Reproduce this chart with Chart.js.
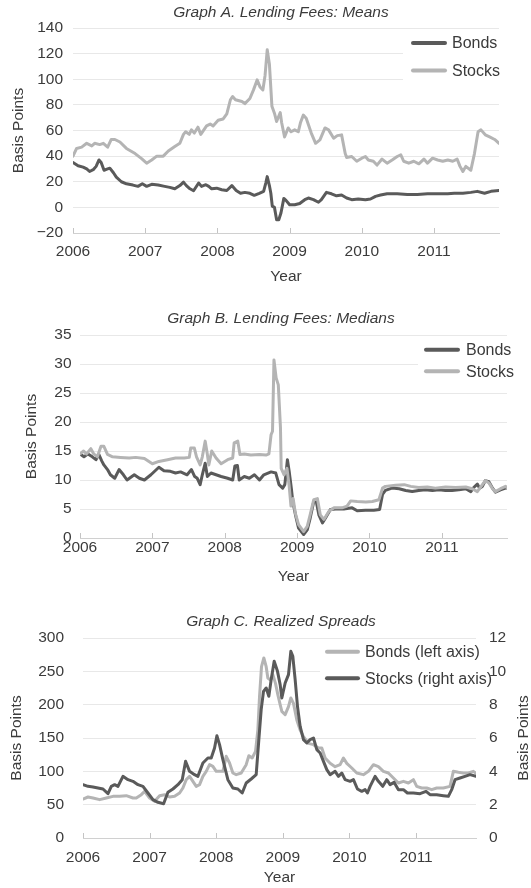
<!DOCTYPE html>
<html>
<head>
<meta charset="utf-8">
<title>Lending Fees and Realized Spreads</title>
<script src="https://cdn.jsdelivr.net/npm/chart.js@4.4.1/dist/chart.umd.min.js"></script>
<style>
  html, body { margin: 0; padding: 0; background: #fff; }
  #wrap { position: relative; width: 531px; height: 888px; overflow: hidden; }
  canvas { position: absolute; left: 0; }
</style>
</head>
<body>
<div id="wrap">
  <canvas id="chartA" width="531" height="295" style="top:0px"></canvas>
  <canvas id="chartB" width="531" height="295" style="top:295px"></canvas>
  <canvas id="chartC" width="531" height="298" style="top:590px"></canvas>
</div>
<script>
// ---- tick labels ----
const yearTicks = [2006, 2007, 2008, 2009, 2010, 2011];
const meanFeeTicks = [-20, 0, 20, 40, 60, 80, 100, 120, 140];
const medianFeeTicks = [0, 5, 10, 15, 20, 25, 30, 35];
const bondSpreadTicks = [0, 50, 100, 150, 200, 250, 300];
const stockSpreadTicks = [0, 2, 4, 6, 8, 10, 12];

// ---- Graph A: mean lending fees (basis points) ----
const meanBondDates = [2006.00,2006.07,2006.14,2006.19,2006.23,2006.28,2006.32,2006.36,2006.39,2006.43,2006.48,2006.51,2006.56,2006.60,2006.67,2006.74,2006.83,2006.90,2006.96,
  2007.02,2007.09,2007.18,2007.27,2007.34,2007.41,2007.48,2007.53,2007.57,2007.62,2007.67,2007.74,2007.78,2007.84,2007.88,2007.92,2007.99,
  2008.06,2008.13,2008.20,2008.26,2008.32,2008.38,2008.45,2008.51,2008.58,2008.64,2008.67,2008.69,2008.72,2008.74,2008.76,2008.79,2008.82,2008.85,2008.88,2008.92,2008.95,
  2009.00,2009.07,2009.14,2009.21,2009.26,2009.33,2009.40,2009.44,2009.51,2009.58,2009.65,2009.72,2009.79,2009.86,2009.95,
  2010.05,2010.12,2010.19,2010.26,2010.35,2010.49,2010.63,2010.77,2010.91,
  2011.05,2011.19,2011.28,2011.40,2011.51,2011.60,2011.70,2011.79,2011.90];
const meanBondFees = [35,32.5,31.4,30,28,29.4,32,37,35,29,30,30.6,27,23.6,20,18.4,17.4,16.4,18.4,
  16.4,18,17.4,16.4,15.6,14.5,17,19.7,17,14.5,13,19,16.4,17.7,16.4,14.5,15,
  13.8,13.2,17,13.2,11,11.7,11,9.4,11,12.5,19,24,17,11,1,0,-9.6,-9.6,-4.4,7,5.5,
  2,2,3,6,7.3,6,4,6,11.7,10.6,9,9.6,7.3,6,6.5,
  6,6.5,8.6,9.6,10.6,10.6,10,10,10.6,
  10.6,10.6,11,11,11.7,12.5,11,12.5,13.2];

const meanStockDates = [2006.00,2006.05,2006.12,2006.19,2006.26,2006.30,2006.37,2006.42,2006.48,2006.53,2006.58,2006.65,2006.74,2006.86,2006.95,
  2007.02,2007.09,2007.16,2007.25,2007.32,2007.41,2007.48,2007.53,2007.56,2007.61,2007.64,2007.68,2007.73,2007.77,2007.85,2007.90,2007.94,
  2008.01,2008.08,2008.13,2008.18,2008.21,2008.25,2008.34,2008.38,2008.45,2008.50,2008.55,2008.59,2008.63,2008.66,2008.69,2008.72,2008.755,2008.79,2008.82,2008.87,2008.89,2008.93,2008.98,
  2009.02,2009.07,2009.12,2009.15,2009.19,2009.23,2009.30,2009.36,2009.42,2009.49,2009.54,2009.61,2009.66,2009.72,2009.77,2009.79,2009.86,2009.93,
  2010.00,2010.05,2010.09,2010.16,2010.21,2010.28,2010.35,2010.42,2010.49,2010.54,2010.58,2010.65,2010.72,2010.79,2010.86,2010.91,2010.98,
  2011.05,2011.12,2011.19,2011.26,2011.32,2011.36,2011.40,2011.44,2011.51,2011.56,2011.61,2011.65,2011.71,2011.77,2011.84,2011.90];
const meanStockFees = [40,46,47,50,48,50,49,50,47,53,53,51,46,42,38,
  34.5,37,40,40,44,47.5,50,57,59,57,60.5,58,62.6,57,63.6,65,63.6,
  68,69,73,84,86.5,84,82.6,81,85,91.7,99.5,94,91.7,103,123,112,79,73.5,67,74,66,55,62,
  59,60.5,59,66,72,69.6,58,50,52.7,62,60.5,54,56,56.6,42,39,39.7,36,
  38.4,39.7,37,36,33,37.7,34.5,37,39.7,41,36,34.5,36,34,37.7,34.5,38.4,
  37,36,37,36,37.7,32,28,32,29,42,59,60.5,56.6,55,53,50];

// ---- Graph B: median lending fees (basis points) ----
const medianBondDates = [2006.00,2006.055,2006.11,2006.17,2006.22,2006.26,2006.30,2006.33,2006.38,2006.42,2006.48,2006.54,2006.60,2006.65,2006.75,2006.82,2006.89,2006.98,
  2007.09,2007.16,2007.25,2007.32,2007.39,2007.48,2007.54,2007.585,2007.62,2007.66,2007.69,2007.73,2007.76,2007.81,2007.88,2007.95,
  2008.04,2008.11,2008.14,2008.175,2008.20,2008.27,2008.34,2008.41,2008.48,2008.54,2008.64,2008.705,2008.75,2008.80,2008.83,2008.866,2008.89,2008.92,2008.94,2008.977,
  2009.02,2009.09,2009.14,2009.18,2009.23,2009.26,2009.30,2009.35,2009.39,2009.46,2009.53,2009.645,2009.76,2009.83,2009.945,
  2010.06,2010.14,2010.18,2010.22,2010.31,2010.41,2010.50,2010.59,2010.68,2010.77,2010.87,2010.96,
  2011.05,2011.14,2011.235,2011.33,2011.40,2011.44,2011.49,2011.52,2011.56,2011.60,2011.65,2011.70,2011.74,2011.81,2011.88,2011.90];
const medianBondFees = [14.5,14,14.5,14,13.5,14.4,13.3,12.6,11.8,10.9,10.3,11.8,10.9,10,10.9,10.3,10,10.9,
  12.2,11.6,11.5,11.2,11.4,10.9,11.8,10.6,10.3,9.2,10.9,12.9,10.6,11.2,10.9,10.6,
  10.3,10,12.4,12.5,10,10.6,10.3,10.9,10,10.9,11.4,11.2,9.2,8.6,9.2,13.5,11.5,8.6,6.3,4,
  1.7,0.6,1.4,3.4,6.3,6.6,4,2.6,3.4,4.9,5,5,5.2,4.7,4.8,
  4.8,4.9,7.5,8.2,8.6,8.5,8.2,8,8.2,8.3,8.2,8.3,
  8.2,8.2,8.3,8.5,8,8.7,9.3,8.6,8.9,9.9,9.7,8.6,7.9,8.3,8.6,8.6];

const medianStockDates = [2006.00,2006.05,2006.09,2006.15,2006.19,2006.24,2006.29,2006.33,2006.38,2006.45,2006.56,2006.68,2006.77,2006.89,
  2007.00,2007.09,2007.21,2007.32,2007.44,2007.51,2007.53,2007.58,2007.61,2007.66,2007.69,2007.73,2007.76,2007.78,2007.82,2007.88,2007.95,
  2008.04,2008.11,2008.13,2008.18,2008.21,2008.27,2008.36,2008.48,2008.57,2008.61,2008.64,2008.66,2008.68,2008.71,2008.74,2008.77,2008.78,2008.82,2008.86,2008.89,2008.915,2008.945,2008.975,
  2009.02,2009.09,2009.14,2009.18,2009.23,2009.28,2009.32,2009.37,2009.44,2009.51,2009.62,2009.69,2009.74,2009.83,2009.95,
  2010.04,2010.13,2010.18,2010.22,2010.36,2010.48,2010.57,2010.68,2010.80,2010.91,
  2011.05,2011.19,2011.33,2011.42,2011.49,2011.56,2011.60,2011.65,2011.70,2011.74,2011.81,2011.88,2011.90];
const medianStockFees = [14.5,15,14.5,15.4,14.5,14,15.8,15.8,14.4,14,13.9,13.8,13.9,13.7,
  12.8,13.2,13.5,13.8,13.8,13.9,15.5,15.5,14,12.6,14,16.7,14.4,12.6,15,13.8,12.8,
  13.5,13.8,16.4,16.7,14.4,14.5,14.3,14.4,14.3,14.5,17.8,18.4,30.7,27.6,26.4,19,12,10.9,12,9,5.5,6.8,4.3,
  2.3,1.1,2,4,6.6,6.8,4,3.2,4.6,5.2,5.2,5.5,6.4,6.3,6.2,
  6.3,6.6,8.6,8.9,9.1,9.2,8.9,8.7,8.8,8.6,
  8.8,8.7,8.8,8.5,8,9.2,9.9,9.5,8.5,8,8.5,8.9,8.7];

// ---- Graph C: realized spreads (bonds on left axis, stocks on right axis) ----
const bondSpreadDates = [2006.00,2006.075,2006.15,2006.25,2006.35,2006.45,2006.55,2006.65,2006.75,2006.80,2006.875,2006.925,
  2007.00,2007.075,2007.15,2007.225,2007.30,2007.375,2007.45,2007.50,2007.55,2007.60,2007.65,2007.70,2007.75,2007.80,2007.85,2007.90,2007.95,
  2008.00,2008.05,2008.10,2008.15,2008.20,2008.25,2008.30,2008.375,2008.45,2008.49,2008.54,2008.59,2008.625,2008.65,2008.68,2008.715,2008.75,2008.775,2008.815,2008.85,2008.89,2008.925,2008.96,2008.985,
  2009.035,2009.085,2009.12,2009.16,2009.21,2009.26,2009.31,2009.385,2009.46,2009.535,2009.585,2009.635,2009.71,2009.785,2009.86,2009.91,2009.96,
  2010.035,2010.11,2010.21,2010.285,2010.36,2010.435,2010.51,2010.585,2010.66,2010.735,2010.81,2010.885,2010.96,
  2011.01,2011.085,2011.16,2011.235,2011.31,2011.41,2011.51,2011.56,2011.635,2011.71,2011.785,2011.86,2011.90];
const bondSpreads = [58.5,61.5,60,57.5,60,62.5,62.5,63.5,60,60,65,70,
  60,55,63.5,65,61.5,62.5,67.5,75,87.5,92.5,85,77.5,80,92.5,100,110,107.5,
  100,100,100,122.5,112.5,97.5,95,97.5,110,123.5,120,130,162,212,257,270,257,240,237,245,232,215,200,190,
  185,197,210,202,177,162,152,142,140,135,135,120,112,107,110,120,112,
  105,97.5,95,100,110,107,100,97.5,90,82.5,85,82.5,87.5,
  77.5,75,75,72.5,75,75,77.5,100,98.5,97.5,97.5,100,97];

const stockSpreadDates = [2006.00,2006.075,2006.15,2006.225,2006.30,2006.375,2006.425,2006.475,2006.525,2006.60,2006.675,2006.75,2006.825,2006.90,2006.975,
  2007.05,2007.125,2007.21,2007.275,2007.35,2007.425,2007.49,2007.54,2007.60,2007.675,2007.725,2007.80,2007.875,2007.925,2007.975,
  2008.01,2008.05,2008.10,2008.175,2008.25,2008.325,2008.39,2008.45,2008.525,2008.60,2008.64,2008.675,2008.71,2008.75,2008.79,2008.825,2008.87,2008.92,2008.96,2008.985,
  2009.035,2009.085,2009.12,2009.15,2009.185,2009.22,2009.26,2009.31,2009.36,2009.41,2009.46,2009.51,2009.56,2009.61,2009.66,2009.71,2009.785,2009.835,2009.885,2009.935,
  2010.01,2010.06,2010.12,2010.185,2010.235,2010.27,2010.31,2010.385,2010.435,2010.50,2010.56,2010.61,2010.67,2010.735,2010.81,2010.87,2010.96,
  2011.06,2011.15,2011.21,2011.31,2011.41,2011.485,2011.535,2011.585,2011.66,2011.735,2011.81,2011.90];
const stockSpreads = [3.2,3.1,3.06,3.0,2.94,2.66,3.1,3.2,3.1,3.7,3.5,3.4,3.2,3.1,2.7,
  2.3,2.14,2.06,2.74,2.94,3.2,3.5,4.6,4.0,3.8,3.7,4.5,4.8,4.8,5.4,
  6.14,5.6,4.7,3.5,3.0,2.94,2.7,3.3,3.54,3.8,5.9,7.7,8.8,9.0,8.5,9.5,10.6,10.0,9.2,8.4,
  9.3,9.8,11.2,10.9,9.5,7.9,6.7,5.9,5.7,5.9,6.0,5.3,5.1,4.6,4.1,3.8,4.0,3.7,3.9,3.5,
  3.4,3.5,2.94,2.8,2.9,2.7,3.1,3.7,3.4,3.1,3.5,3.2,3.34,2.9,2.9,2.7,2.7,
  2.66,2.8,2.6,2.6,2.54,2.5,2.9,3.5,3.6,3.7,3.8,3.7];

// ---- styling ----
Chart.defaults.font.family = '"Liberation Sans", Arial, Helvetica, sans-serif';
Chart.defaults.font.size = 15.5;
Chart.defaults.color = '#3b3b3b';

const DARK = '#5a5a5a';
const LIGHT = '#b4b4b4';
const GRID = '#e8e8e8';
const AXIS = '#d0d0d0';
const TEXT = '#3b3b3b';
const FONT = '"Liberation Sans", Arial, Helvetica, sans-serif';

function points(xs, ys) {
  const n = Math.min(xs.length, ys.length);
  const out = [];
  for (let i = 0; i < n; i++) out.push({ x: xs[i], y: ys[i] });
  return out;
}

function series(label, xs, ys, color, extra) {
  return Object.assign({
    label, data: points(xs, ys), borderColor: color, backgroundColor: color,
    borderWidth: 3, pointRadius: 0, tension: 0, fill: false,
    borderJoinStyle: 'round', borderCapStyle: 'round'
  }, extra || {});
}

// Titles, legend, inward year ticks and the right-hand axis title.
const decor = {
  id: 'decor',
  beforeDatasetsDraw(chart, args, o) {
    const ctx = chart.ctx, area = chart.chartArea, xs = chart.scales.x;
    ctx.save();
    // inward tick marks on the year axis
    ctx.strokeStyle = '#c4c4c4';
    ctx.lineWidth = 1;
    xs.ticks.forEach(t => {
      const px = Math.round(xs.getPixelForValue(t.value)) + 0.5;
      ctx.beginPath();
      ctx.moveTo(px, area.bottom);
      ctx.lineTo(px, area.bottom - 5);
      ctx.stroke();
    });
    // legend
    const lg = o.legend;
    ctx.fillStyle = '#fff';
    ctx.fillRect(lg.box[0], lg.box[1], lg.box[2], lg.box[3]);
    ctx.font = '16px ' + FONT;
    ctx.textBaseline = 'middle';
    ctx.textAlign = 'left';
    chart.data.datasets.forEach((ds, i) => {
      const y = lg.rows[i];
      ctx.strokeStyle = ds.borderColor;
      ctx.lineWidth = 4;
      ctx.lineCap = 'round';
      ctx.beginPath();
      ctx.moveTo(lg.x1, y);
      ctx.lineTo(lg.x2, y);
      ctx.stroke();
      ctx.fillStyle = TEXT;
      ctx.fillText(ds.label, lg.textX, y + 1);
    });
    ctx.restore();
  },
  afterDraw(chart, args, o) {
    const ctx = chart.ctx;
    ctx.save();
    ctx.fillStyle = TEXT;
    ctx.textAlign = 'center';
    ctx.textBaseline = 'middle';
    ctx.font = 'italic 15.5px ' + FONT;
    ctx.fillText(o.title, o.titleX, o.titleY);
    if (o.rightTitle) {
      const area = chart.chartArea;
      ctx.font = '15.5px ' + FONT;
      ctx.translate(o.rightTitle.x, (area.top + area.bottom) / 2);
      ctx.rotate(-Math.PI / 2);
      ctx.fillText(o.rightTitle.text, 0, 0);
    }
    ctx.restore();
  }
};

function fixedTicks(values) {
  return scale => { scale.ticks = values.map(v => ({ value: v })); };
}

function yearAxis(height, labelPad, titlePad) {
  return {
    type: 'linear', min: 2006, max: 2011.9,
    afterBuildTicks: fixedTicks(yearTicks),
    afterFit: s => { s.height = height; },
    ticks: { padding: labelPad, autoSkip: false, maxRotation: 0, callback: v => String(v) },
    grid: { display: false, drawTicks: false },
    border: { display: true, color: AXIS, width: 1 },
    title: { display: true, text: 'Year', padding: { top: 0, bottom: titlePad } }
  };
}

function valueAxis(min, max, values, width, labelPad, titlePad) {
  return {
    type: 'linear', position: 'left', min, max,
    afterBuildTicks: fixedTicks(values),
    afterFit: s => { s.width = width; },
    ticks: { padding: labelPad, callback: v => (v < 0 ? '\u2212' + Math.abs(v) : String(v)) },
    grid: { drawTicks: false, color: c => (c.tick && c.tick.value === min ? 'rgba(0,0,0,0)' : GRID), lineWidth: 1 },
    border: { display: false },
    title: { display: true, text: 'Basis Points', padding: { top: titlePad, bottom: 0 } }
  };
}

function baseOptions(pad, decorOpts, scales) {
  return {
    responsive: false, animation: false, events: [],
    layout: { padding: pad },
    plugins: { legend: { display: false }, tooltip: { enabled: false }, decor: decorOpts },
    scales
  };
}

// Graph A
new Chart(document.getElementById('chartA'), {
  type: 'line',
  data: { datasets: [
    series('Bonds', meanBondDates, meanBondFees, DARK, { order: 1 }),
    series('Stocks', meanStockDates, meanStockFees, LIGHT, { order: 0 })
  ] },
  options: baseOptions({ top: 28, right: 32, bottom: 0, left: 0 }, {
    title: 'Graph A. Lending Fees: Means', titleX: 281, titleY: 12.5,
    legend: { x1: 413, x2: 445, textX: 452, rows: [43, 70.5], box: [403, 33, 128, 55] }
  }, {
    x: yearAxis(62, 9, 9),
    y: valueAxis(-20, 140, meanFeeTicks, 73, 10, 9)
  }),
  plugins: [decor]
});

// Graph B
new Chart(document.getElementById('chartB'), {
  type: 'line',
  data: { datasets: [
    series('Bonds', medianBondDates, medianBondFees, DARK, { order: 1 }),
    series('Stocks', medianStockDates, medianStockFees, LIGHT, { order: 0 })
  ] },
  options: baseOptions({ top: 40, right: 24, bottom: 0, left: 0 }, {
    title: 'Graph B. Lending Fees: Medians', titleX: 281, titleY: 24,
    legend: { x1: 426, x2: 458, textX: 466, rows: [54.7, 76.3], box: [418, 44, 113, 46] }
  }, {
    x: yearAxis(52, 0, 4),
    y: valueAxis(0, 35, medianFeeTicks, 80, 8.5, 22)
  }),
  plugins: [decor]
});

// Graph C
const yLeftC = valueAxis(0, 300, bondSpreadTicks, 83, 19, 7.5);
new Chart(document.getElementById('chartC'), {
  type: 'line',
  data: { datasets: [
    series('Bonds (left axis)', bondSpreadDates, bondSpreads, LIGHT, { order: 1, yAxisID: 'y' }),
    series('Stocks (right axis)', stockSpreadDates, stockSpreads, DARK, { order: 0, yAxisID: 'y2' })
  ] },
  options: baseOptions({ top: 48, right: 0, bottom: 0, left: 0 }, {
    title: 'Graph C. Realized Spreads', titleX: 281, titleY: 32,
    legend: { x1: 327, x2: 358, textX: 365, rows: [61.7, 88.3], box: [320, 53, 156, 50] },
    rightTitle: { text: 'Basis Points', x: 524 }
  }, {
    x: yearAxis(50, 10, 1),
    y: yLeftC,
    y2: {
      type: 'linear', position: 'right', min: 0, max: 12,
      afterBuildTicks: fixedTicks(stockSpreadTicks),
      afterFit: s => { s.width = 55; },
      ticks: { padding: 13, callback: v => String(v) },
      grid: { display: false, drawTicks: false },
      border: { display: false }
    }
  }),
  plugins: [decor]
});
</script>
</body>
</html>
